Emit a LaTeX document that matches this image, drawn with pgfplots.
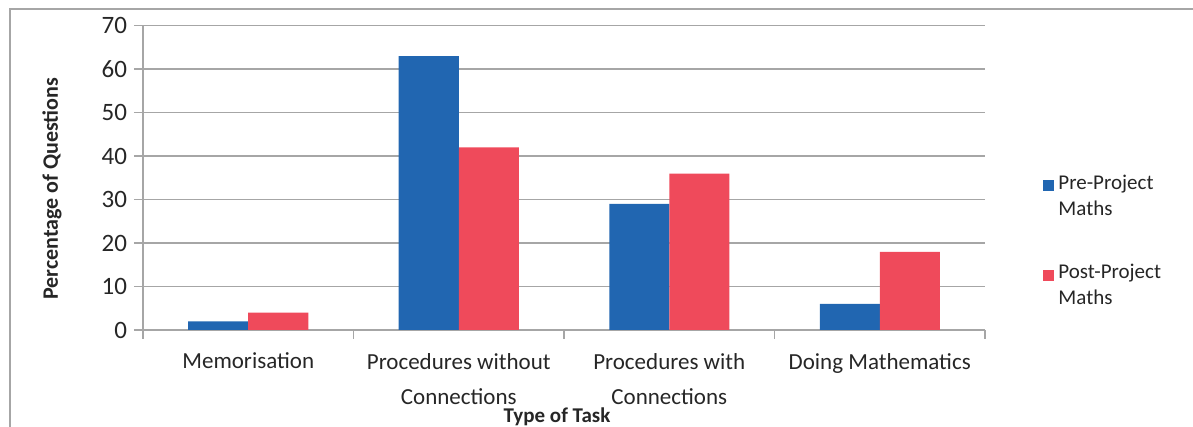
\documentclass[border=0pt]{standalone}
\usepackage{pgfplots}
\pgfplotsset{compat=1.18}
\usepackage{fontspec}
\setmainfont{Carlito}
\definecolor{preblue}{HTML}{2166B1}
\definecolor{postred}{HTML}{EF4A5B}
\definecolor{gridgray}{HTML}{A6A6A6}
\definecolor{txt}{HTML}{262626}

\begin{document}
\begin{tikzpicture}
\useasboundingbox (-71.5pt,-48.5pt) rectangle (525pt,165pt);
% outer chart frame
\draw[gridgray, line width=0.75pt] (-66.5pt,-60pt) -- (-66.5pt,160.5pt) -- (540pt,160.5pt);
\begin{axis}[
    scale only axis, width=421pt, height=152.15pt,
    ybar=0pt, bar width=30pt,
    xmin=-0.5, xmax=3.5, ymin=0, ymax=70,
    ytick={0,10,...,70},
    xtick={-0.5,0.5,1.5,2.5,3.5},
    xticklabels={},
    extra x ticks={0,1,2,3},
    extra x tick labels={Memorisation, {Procedures without\\Connections}, {Procedures with\\Connections}, Doing Mathematics},
    extra x tick style={major tick length=0pt, xmajorgrids=false},
    tick align=outside,
    major tick length=4.5pt,
    axis x line*=bottom, axis y line*=left,
    axis line style={-, gridgray, line width=0.75pt},
    tick style={gridgray, line width=0.75pt},
    ymajorgrids=true,
    grid style={gridgray, line width=0.75pt},
    /pgf/number format/assume math mode=true,
    yticklabel style={font=\fontsize{12.5}{15}\selectfont, text=txt},
    xticklabel style={font=\fontsize{11.5}{17.5}\selectfont, text=txt, align=center, yshift=-8pt},
    ylabel={\textbf{Percentage of Questions}},
    ylabel style={at={(axis description cs:-0.108,0.464)}, anchor=center, font=\fontsize{11}{13}\selectfont, text=txt},
    xlabel={\textbf{Type of Task}},
    xlabel style={at={(axis description cs:0.4917,-0.284)}, anchor=center, font=\fontsize{10.5}{12}\selectfont, text=txt},
    legend style={at={(axis description cs:1.0618,0.537)}, anchor=north west, draw=none, fill=none,
        font=\fontsize{10.5}{13}\selectfont, text=txt, row sep=19pt,
        cells={align=left, anchor=west}},
]
\addplot[fill=preblue, draw=none,
    legend image code/.code={\fill[preblue] (0pt,2.75pt) rectangle (5.5pt,8.25pt);}]
    coordinates {(0,2) (1,63) (2,29) (3,6)};
\addplot[fill=postred, draw=none,
    legend image code/.code={\fill[postred] (0pt,2.75pt) rectangle (5.5pt,8.25pt);}]
    coordinates {(0,4) (1,42) (2,36) (3,18)};
\legend{{Pre-Project\\Maths}, {Post-Project\\Maths}}
\end{axis}
\end{tikzpicture}
\end{document}
